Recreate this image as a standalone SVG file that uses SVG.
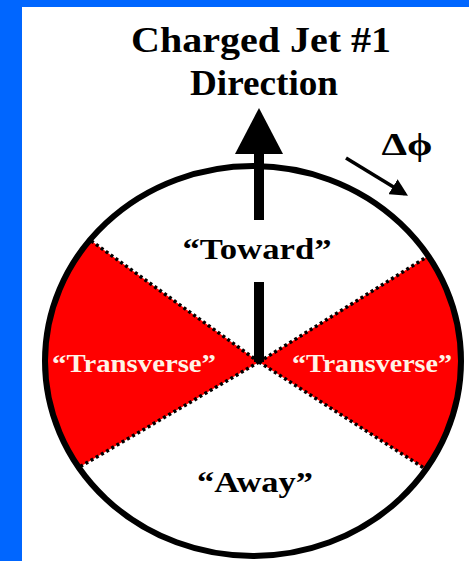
<svg xmlns="http://www.w3.org/2000/svg" width="469" height="561" viewBox="0 0 469 561">
<style>
.t{font-family:"Liberation Serif","Times New Roman",serif;font-weight:bold;text-anchor:middle}
.dot{stroke:#000;stroke-width:3.5;stroke-dasharray:3 3;fill:none}
</style>
<defs>
<clipPath id="circ"><ellipse cx="253" cy="361" rx="208" ry="195"/></clipPath>
<marker id="ah" viewBox="0 0 10 10" refX="8" refY="5" markerWidth="5" markerHeight="5" orient="auto"><path d="M0,0 L10,5 L0,10 z" fill="#000"/></marker>
</defs>
<rect x="0" y="0" width="469" height="561" fill="#0066FF"/>
<rect x="22" y="7" width="447" height="554" fill="#FFFFFF"/>
<g id="wedges" clip-path="url(#circ)">
<polygon points="259,362 5.5,179 -5,516.5" fill="#FF0000"/>
<polygon points="259,362 508,206 511,524" fill="#FF0000"/>
<line class="dot" x1="259" y1="362" x2="5.5" y2="179"/>
<line class="dot" x1="259" y1="362" x2="-5" y2="516.5"/>
<line class="dot" x1="259" y1="362" x2="508" y2="206"/>
<line class="dot" x1="259" y1="362" x2="511" y2="524"/>
</g>
<g id="circle"><ellipse cx="253" cy="361" rx="208" ry="195" fill="none" stroke="#000" stroke-width="6"/></g>
<g id="connectors">
<rect x="254" y="150" width="10" height="70" fill="#000"/>
<rect x="254" y="282" width="10" height="80" fill="#000"/>
<polygon points="259,108 235,154 283,154" fill="#000"/>
<line x1="346" y1="158" x2="405" y2="194" stroke="#000" stroke-width="3.5" marker-end="url(#ah)"/>
</g>
<g id="title">
<text class="t" x="261" y="52" font-size="36" textLength="260" lengthAdjust="spacingAndGlyphs">Charged Jet #1</text>
<text class="t" x="264" y="95" font-size="36" textLength="148" lengthAdjust="spacingAndGlyphs">Direction</text>
</g>
<g id="dphi"><text class="t" x="407" y="155" font-size="32" textLength="51" lengthAdjust="spacingAndGlyphs">Δϕ</text></g>
<g id="toward"><text class="t" x="257" y="259" font-size="30" textLength="149" lengthAdjust="spacingAndGlyphs">“Toward”</text></g>
<g id="away"><text class="t" x="255" y="492" font-size="30" textLength="116" lengthAdjust="spacingAndGlyphs">“Away”</text></g>
<g id="transverse-left"><text class="t" x="134" y="372" font-size="26" fill="#FFF3E6" textLength="164" lengthAdjust="spacingAndGlyphs">“Transverse”</text></g>
<g id="transverse-right"><text class="t" x="372" y="372" font-size="26" fill="#FFF3E6" textLength="160" lengthAdjust="spacingAndGlyphs">“Transverse”</text></g>
</svg>
